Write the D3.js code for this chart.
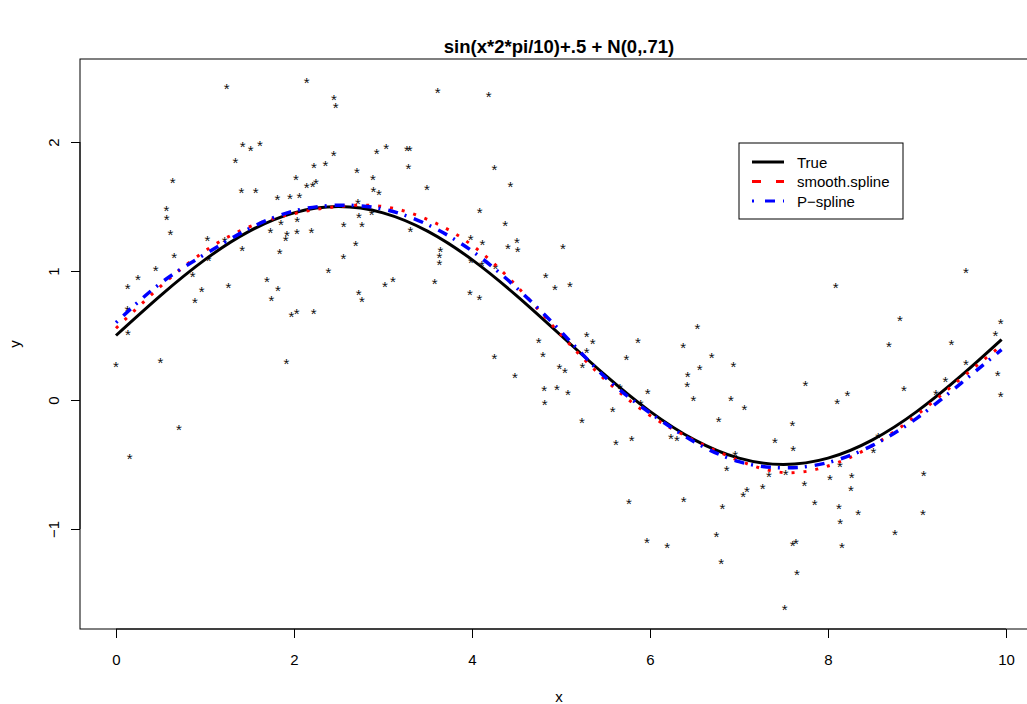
<!DOCTYPE html>
<html>
<head>
<meta charset="utf-8">
<script src="https://cdn.jsdelivr.net/npm/d3@7"></script>
<style>
  body { margin: 0; background: #fff; }
  svg { display: block; font-family: "Liberation Sans", Arial, Helvetica, sans-serif; }
</style>
</head>
<body>
<div id="chart"></div>
<script>
const ptX = [1.244,2.143,1.423,1.513,1.618,1.341,0.637,2.225,2.022,2.142,2.21,2.247,1.408,1.569,1.813,1.955,2.06,0.566,0.569,0.611,1.026,1.221,1.854,2.037,1.734,1.921,2.034,2.195,1.906,1.839,1.419,0.655,1.041,0.446,0.247,0.131,0.861,0.963,0.888,1.697,1.82,1.745,1.262,0.127,1.97,2.03,2.221,0.135,
  0.0,0.498,1.914,0.708,0.154,
  2.449,2.468,3.614,4.187,2.446,2.352,2.929,3.037,3.27,3.3,3.285,2.708,2.888,2.891,2.955,3.494,4.251,4.431,2.719,2.73,2.873,4.086,2.558,2.764,3.307,4.374,3.985,4.116,4.506,4.404,4.513,2.693,2.554,3.644,3.633,3.633,2.386,3.989,4.112,4.262,3.022,3.112,3.581,2.727,2.764,3.978,4.082,4.749,
  4.251,4.483,
  5.022,4.828,4.933,5.101,6.532,5.288,5.356,5.865,6.374,
  4.798,5.288,5.734,6.693,6.936,6.558,4.981,5.045,5.24,6.423,6.419,4.812,4.955,5.079,4.817,5.974,6.487,6.91,5.663,5.895,7.06,5.581,6.772,5.236,5.618,5.794,6.236,6.303,6.958,6.862,7.09,7.048,5.764,6.378,6.813,6.745,5.966,6.194,6.801,
  9.551,8.086,8.809,9.94,9.88,8.685,9.386,
  9.551,9.906,9.94,7.745,8.217,8.104,8.854,9.318,9.213,7.599,7.404,7.61,8.509,8.565,8.135,7.337,7.524,8.266,9.075,7.266,7.734,8.022,8.258,7.85,8.124,8.34,9.067,8.138,8.753,7.603,7.64,8.157,7.652,7.513];
const ptY = [2.429,2.475,1.979,1.948,1.987,1.85,1.7,1.817,1.718,1.661,1.669,1.692,1.623,1.623,1.568,1.576,1.584,1.483,1.411,1.297,1.248,1.24,1.374,1.398,1.312,1.289,1.305,1.312,1.248,1.15,1.173,1.119,1.093,1.018,0.948,0.879,0.972,0.855,0.77,0.933,0.863,0.785,0.886,0.703,0.661,0.682,0.685,0.522,
  0.271,0.305,0.295,-0.214,-0.439,
  2.338,2.282,2.393,2.362,1.909,1.834,1.925,1.964,1.948,1.948,1.809,1.778,1.718,1.63,1.607,1.641,1.801,1.669,1.538,1.429,1.447,1.468,1.354,1.354,1.318,1.367,1.258,1.219,1.235,1.188,1.165,1.207,1.111,1.165,1.119,1.059,0.997,1.075,1.057,1.031,0.894,0.928,0.912,0.834,0.773,0.834,0.788,0.46,
  0.331,0.184,
  1.188,0.964,0.871,0.894,0.568,0.501,0.452,0.46,0.421,
  0.351,0.382,0.328,0.343,0.274,0.251,0.258,0.225,0.266,0.191,0.119,0.088,0.096,0.057,-0.026,0.065,0.01,0.01,0.103,-0.021,-0.059,-0.075,-0.152,-0.16,-0.331,-0.3,-0.284,-0.302,-0.419,-0.537,-0.695,-0.734,-0.788,-0.773,-0.827,-1.044,-1.091,-1.129,-1.253,
  1.003,0.884,0.631,0.605,0.514,0.429,0.444,
  0.284,0.204,0.041,0.121,0.049,-0.013,0.083,0.157,0.057,-0.184,-0.32,-0.382,-0.393,-0.277,-0.501,-0.579,-0.563,-0.587,-0.571,-0.672,-0.649,-0.607,-0.687,-0.801,-0.825,-0.873,-0.873,-0.943,-1.034,-1.114,-1.098,-1.129,-1.344,-1.61];

// fitted curves, sampled at these x positions
const gridX = [0,0.5,1,1.5,2,2.5,3,3.5,4,4.5,5,5.5,6,6.5,7,7.5,8,8.5,9,9.5,9.95];
const trueY = [0.5,0.809,1.088,1.309,1.451,1.5,1.451,1.309,1.088,0.809,0.5,0.191,-0.088,-0.309,-0.451,-0.5,-0.451,-0.309,-0.088,0.191,0.469];
const smoothY = [0.556,0.88,1.155,1.343,1.445,1.5,1.5,1.4,1.2,0.885,0.505,0.155,-0.12,-0.313,-0.47,-0.562,-0.512,-0.354,-0.115,0.17,0.423];
const psplineY = [0.6,0.905,1.13,1.33,1.465,1.51,1.48,1.36,1.155,0.87,0.53,0.175,-0.1,-0.325,-0.478,-0.526,-0.485,-0.352,-0.14,0.133,0.39];

const xTicks = [0,2,4,6,8,10];
const yTicks = [-1,0,1,2];
const legendLabels = ["True", "smooth.spline", "P\u2212spline"];

const width = 1027, height = 704;
const box = { left: 80, top: 59, right: 1038, bottom: 629 };

const svg = d3.select("#chart").append("svg")
    .attr("width", width)
    .attr("height", height);

const x = d3.scaleLinear().domain([0, 10]).range([116, 1006]);
const y = d3.scaleLinear().domain([-1, 2]).range([529, 142]);

// title
svg.append("text")
    .attr("x", (box.left + box.right) / 2)
    .attr("y", 53)
    .attr("text-anchor", "middle")
    .style("font-size", "18.5px")
    .style("font-weight", "bold")
    .text("sin(x*2*pi/10)+.5 + N(0,.71)");

// points drawn as asterisks
const stars = svg.append("g")
    .style("font-size", "15px")
    .attr("fill", "#111")
    .selectAll("text")
    .data(ptX.map((d, i) => [d, ptY[i]]))
    .join("text")
    .attr("x", d => x(d[0]))
    .attr("y", d => y(d[1]))
    .attr("text-anchor", "middle")
    .text("*");
// center glyph on its point
stars.each(function (d) {
    const b = this.getBBox();
    const cy = b.y + b.height / 2;
    d3.select(this).attr("y", y(d[1]) + (y(d[1]) - cy) + 1.6);
});

const line = d3.line()
    .x((d, i) => x(gridX[i]))
    .y(d => y(d))
    .curve(d3.curveNatural);

svg.append("path")
    .attr("d", line(trueY))
    .attr("fill", "none")
    .attr("stroke", "#000")
    .attr("stroke-width", 3);

svg.append("path")
    .attr("d", line(smoothY))
    .attr("fill", "none")
    .attr("stroke", "#ff0000")
    .attr("stroke-width", 3)
    .attr("stroke-dasharray", "3,9");

svg.append("path")
    .attr("d", line(psplineY))
    .attr("fill", "none")
    .attr("stroke", "#0000ff")
    .attr("stroke-width", 3.5)
    .attr("stroke-dasharray", "2,8,10,7");

// plot box
svg.append("rect")
    .attr("x", box.left)
    .attr("y", box.top)
    .attr("width", box.right - box.left)
    .attr("height", box.bottom - box.top)
    .attr("fill", "none")
    .attr("stroke", "#000")
    .attr("stroke-width", 1);

// axes
const xAxis = svg.append("g")
    .attr("transform", `translate(0,${box.bottom})`)
    .call(d3.axisBottom(x).tickValues(xTicks).tickSize(9).tickPadding(16).tickFormat(d3.format("d")));
xAxis.select(".domain").attr("d", `M${x(0)},0H${x(10)}`);

const yAxis = svg.append("g")
    .attr("transform", `translate(${box.left},0)`)
    .call(d3.axisLeft(y).tickValues(yTicks).tickSize(9).tickFormat(d => d < 0 ? "\u2212" + Math.abs(d) : d));
yAxis.select(".domain").attr("d", `M0,${y(-1)}V${y(2)}`);
yAxis.selectAll(".tick text")
    .attr("x", 0).attr("dy", null)
    .attr("text-anchor", "middle")
    .attr("transform", "translate(-27,0) rotate(-90)")
    .attr("dominant-baseline", "central");

svg.selectAll(".tick text").style("font-size", "15px").attr("fill", "#000")
    .style("font-family", "'Liberation Sans', Arial, sans-serif");
svg.selectAll(".tick line").attr("stroke", "#000");

// axis titles
svg.append("text")
    .attr("x", (box.left + box.right) / 2)
    .attr("y", 702)
    .attr("text-anchor", "middle")
    .style("font-size", "15px")
    .text("x");

svg.append("text")
    .attr("transform", `translate(20,${(box.top + box.bottom) / 2}) rotate(-90)`)
    .attr("text-anchor", "middle")
    .style("font-size", "15px")
    .text("y");

// legend
const lg = svg.append("g");
lg.append("rect")
    .attr("x", 739).attr("y", 143)
    .attr("width", 164).attr("height", 76)
    .attr("fill", "#fff")
    .attr("stroke", "#000");

const legendStyles = [
    { stroke: "#000", dash: null },
    { stroke: "#ff0000", dash: "9,15" },
    { stroke: "#0000ff", dash: "2,11,10,8" }
];
legendLabels.forEach((lab, i) => {
    const ly = 162 + i * 19.5;
    lg.append("line")
        .attr("x1", 752).attr("x2", 784)
        .attr("y1", ly).attr("y2", ly)
        .attr("stroke", legendStyles[i].stroke)
        .attr("stroke-width", 3)
        .attr("stroke-dasharray", legendStyles[i].dash);
    lg.append("text")
        .attr("x", 797).attr("y", ly)
        .attr("dominant-baseline", "central")
        .style("font-size", "15px")
        .text(lab);
});
</script>
</body>
</html>
